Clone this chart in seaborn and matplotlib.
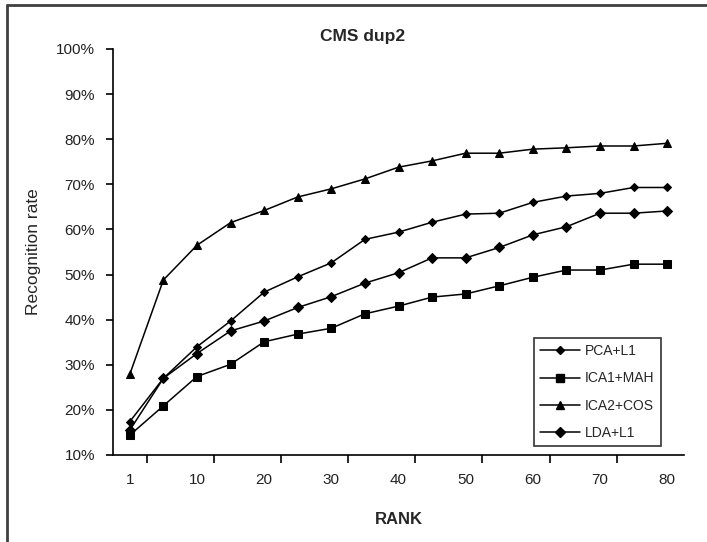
import pandas as pd
import matplotlib.pyplot as plt
import seaborn as sns
from matplotlib.lines import Line2D
from matplotlib.ticker import FuncFormatter

# Rank values (categories) and recognition rates (%)
ranks = [1, 5, 10, 15, 20, 25, 30, 35, 40, 45, 50, 55, 60, 65, 70, 75, 80]
pca_l1 = [17.4, 27.0, 34.0, 39.7, 46.1, 49.5, 52.6, 57.8, 59.4, 61.6, 63.4, 63.6, 66.0, 67.4, 68.0, 69.3, 69.3]
ica1_mah = [14.4, 20.9, 27.4, 30.1, 35.1, 36.8, 38.1, 41.3, 43.0, 45.0, 45.7, 47.5, 49.4, 51.0, 51.0, 52.3, 52.3]
ica2_cos = [27.9, 48.8, 56.5, 61.5, 64.2, 67.2, 69.0, 71.2, 73.8, 75.2, 76.9, 76.9, 77.8, 78.1, 78.5, 78.5, 79.1]
lda_l1 = [15.5, 27.0, 32.5, 37.5, 39.7, 42.7, 45.1, 48.1, 50.4, 53.7, 53.7, 56.0, 58.8, 60.6, 63.6, 63.6, 64.1]

series = {
    "PCA+L1": (pca_l1, "D", 3.6),
    "ICA1+MAH": (ica1_mah, "s", 5.2),
    "ICA2+COS": (ica2_cos, "^", 6.2),
    "LDA+L1": (lda_l1, "D", 5.0),
}

sns.set_style("ticks")
plt.rcParams['font.family'] = ['Liberation Sans', 'DejaVu Sans']

fig = plt.figure(figsize=(7.07, 5.42), dpi=100)
ax = fig.add_axes([113 / 707, 87 / 542, 571 / 707, 406 / 542])

pos = list(range(len(ranks)))
handles = []
for name, (vals, mk, ms) in series.items():
    df = pd.DataFrame({"pos": pos, "rate": vals})
    sns.lineplot(data=df, x="pos", y="rate", ax=ax, color="black", lw=1.1,
                 marker=mk, markersize=ms, markeredgecolor="black", markerfacecolor="black")
    handles.append(Line2D([], [], color="black", lw=1.1, marker=mk, markersize=ms, label=name))

ax.set_xlim(-0.5, len(ranks) - 0.5)
ax.set_ylim(10, 100)
ax.set_yticks(range(10, 101, 10))
ax.yaxis.set_major_formatter(FuncFormatter(lambda v, p: f"{int(v)}%"))

label_pos = pos[::2]
ax.set_xticks(label_pos)
ax.set_xticklabels([str(ranks[i]) for i in label_pos])
ax.set_xticks([p + 0.5 for p in pos[:-1:2]], minor=True)
ax.tick_params(axis="x", which="major", length=0, pad=13, labelsize=11, labelcolor="#222222")
ax.tick_params(axis="x", which="minor", length=6, width=1.2, color="black", direction="out")
ax.tick_params(axis="y", length=5, width=1.2, color="black", labelsize=11, labelcolor="#222222", pad=8)

for s in ["top", "right"]:
    ax.spines[s].set_visible(False)
for s in ["left", "bottom"]:
    ax.spines[s].set_linewidth(1.2)
    ax.spines[s].set_color("black")

ax.set_xlabel("RANK", fontsize=12, fontweight="bold", labelpad=18)
ax.set_ylabel("Recognition rate", fontsize=12.5, labelpad=11)
fig.text(363 / 707, 1 - 36 / 542, "CMS dup2", ha="center", va="center",
         fontsize=12.5, fontweight="bold")

leg = ax.legend(handles=handles, loc="lower left", bbox_to_anchor=(0.737, 0.022),
                frameon=True, fancybox=False, edgecolor="black", fontsize=10,
                handlelength=2.9, borderaxespad=0, labelspacing=0.95, handletextpad=0.35,
                borderpad=0.45)
leg.get_frame().set_linewidth(1.2)

# outer chart border (top and left only visible)
fig.add_artist(Line2D([7 / 707, 1], [1 - 5 / 542, 1 - 5 / 542], color="#404040", lw=2, transform=fig.transFigure))
fig.add_artist(Line2D([7 / 707, 7 / 707], [0, 1 - 5 / 542], color="#404040", lw=2, transform=fig.transFigure))

fig.savefig("out.png", dpi=100)
